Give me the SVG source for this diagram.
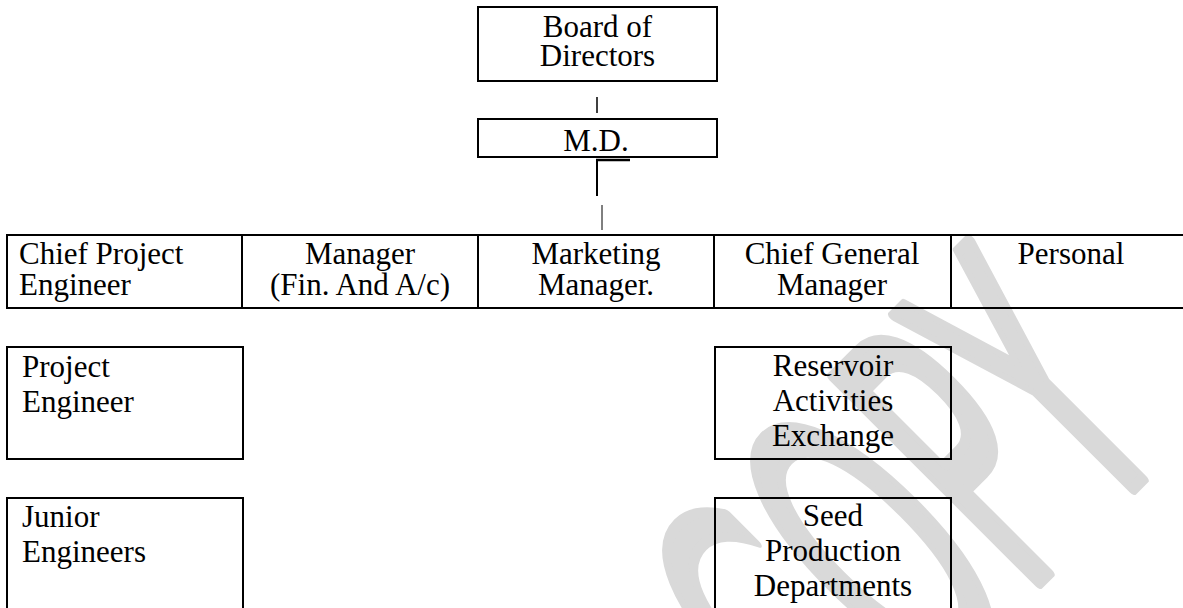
<svg xmlns="http://www.w3.org/2000/svg" width="1183" height="608" viewBox="0 0 1183 608">
<style>
.box{fill:none;stroke:#000;stroke-width:2}
.t{font-family:"Liberation Serif","Times New Roman",serif;font-size:31px;fill:#000}
.c{text-anchor:middle}
.wm{font-family:"DejaVu Sans",sans-serif;font-size:400px;fill:#d9d9d9;stroke:#d9d9d9;stroke-width:12;stroke-linejoin:round}
.ln{stroke:#000;fill:none}
</style>
<rect width="1183" height="608" fill="#fff"/>
<g id="watermark"><text class="wm" transform="translate(836,786) rotate(-45) scale(0.45,1)">COPY</text></g>
<g id="connectors">
<line class="ln" x1="597" y1="97" x2="597" y2="113" stroke-width="1.5"/>
<line class="ln" x1="596" y1="160" x2="630" y2="160" stroke-width="2.5"/>
<line class="ln" x1="597" y1="160" x2="597" y2="196" stroke-width="2"/>
<line class="ln" x1="602" y1="205" x2="602" y2="230" stroke-width="1" stroke="#333"/>
</g>
<g id="board"><rect class="box" x="478" y="7" width="239" height="74"/><text class="t c" x="597.5" y="37">Board of</text><text class="t c" x="597.5" y="66">Directors</text></g>
<g id="md"><rect class="box" x="478" y="119" width="239" height="38"/><text class="t c" x="596" y="151">M.D.</text></g>
<g id="chief-project-engineer"><rect class="box" x="7" y="235" width="235" height="73"/><text class="t" x="19" y="264">Chief Project</text><text class="t" x="19" y="295">Engineer</text></g>
<g id="manager-fin"><rect class="box" x="242" y="235" width="236" height="73"/><text class="t c" x="360" y="264">Manager</text><text class="t c" x="360" y="295">(Fin. And A/c)</text></g>
<g id="marketing-manager"><rect class="box" x="478" y="235" width="236" height="73"/><text class="t c" x="596" y="264">Marketing</text><text class="t c" x="596" y="295">Manager.</text></g>
<g id="chief-general-manager"><rect class="box" x="714" y="235" width="237" height="73"/><text class="t c" x="832" y="264">Chief General</text><text class="t c" x="832" y="295">Manager</text></g>
<g id="personal"><rect class="box" x="951" y="235" width="245" height="73"/><text class="t c" x="1071" y="264">Personal</text></g>
<g id="project-engineer"><rect class="box" x="7" y="347" width="236" height="112"/><text class="t" x="22" y="377">Project</text><text class="t" x="22" y="412">Engineer</text></g>
<g id="junior-engineers"><rect class="box" x="7" y="498" width="236" height="125"/><text class="t" x="22" y="527">Junior</text><text class="t" x="22" y="562">Engineers</text></g>
<g id="reservoir"><rect class="box" x="715" y="347" width="236" height="112"/><text class="t c" x="833" y="376">Reservoir</text><text class="t c" x="833" y="411">Activities</text><text class="t c" x="833" y="446">Exchange</text></g>
<g id="seed"><rect class="box" x="715" y="498" width="236" height="125"/><text class="t c" x="833" y="526">Seed</text><text class="t c" x="833" y="561">Production</text><text class="t c" x="833" y="596">Departments</text></g>
</svg>
